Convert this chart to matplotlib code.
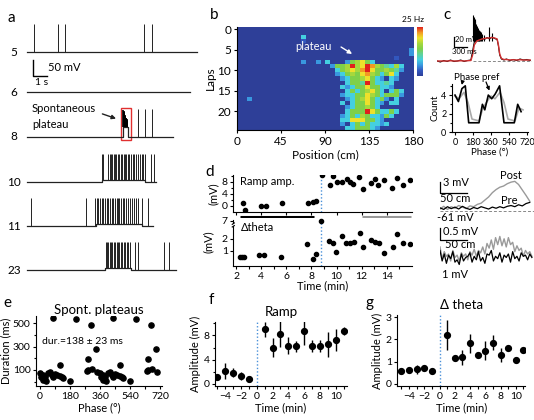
import numpy as np
import matplotlib
matplotlib.use('Agg')
import matplotlib.pyplot as plt
from matplotlib.colors import LinearSegmentedColormap
from matplotlib.patches import Rectangle

plt.rcParams['font.family'] = ['Lato', 'DejaVu Sans']
plt.rcParams['font.size'] = 7.5
plt.rcParams['axes.linewidth'] = 0.8

# ---------------- data ----------------
# a: example laps (time in s)
lap_names = ['5', '6', '8', '10', '11', '23']
lap_end = [12.14, 11.64, 10.4, 9.21, 9.0, 10.64]
lap_spikes = [
    [0.48, 2.21, 2.74, 8.36, 8.95],
    [],
    [7.95, 8.45, 8.93],
    [5.33, 5.45, 5.81, 5.9, 6.0, 6.08, 6.2, 6.3, 6.38, 6.5, 6.58, 6.7, 6.8, 6.9,
     7.0, 7.1, 7.22, 7.3, 7.42, 7.55, 7.65, 7.78, 7.9, 8.05, 8.2, 8.3, 8.43, 8.83, 9.05],
    [0.26, 4.21, 4.86, 5.0, 5.1, 5.2, 5.35, 5.45, 5.55, 5.7, 5.8, 5.9, 6.05, 6.15,
     6.3, 6.4, 6.5, 6.6, 6.72, 6.85, 6.95, 7.05, 7.2, 7.35, 7.5, 7.62, 7.78, 7.95, 8.2, 8.62],
    [5.62, 5.72, 5.8, 5.9, 6.0, 6.1, 6.2, 6.3, 6.42, 6.5, 6.6, 6.7, 6.82, 6.92,
     7.02, 7.12, 7.22, 7.36, 7.71, 7.93, 9.79, 10.14],
]
lap_plateau = [None, None, (6.86, 7.21, 30), (5.33, 8.45, 6), (4.95, 8.25, 6), (5.6, 7.4, 7)]
spont_t = [6.88, 6.9, 6.93, 6.95, 6.98, 7.0, 7.03, 7.06, 7.09, 7.12, 7.15, 7.18]
spont_h = [84, 80, 78, 72, 70, 66, 62, 60, 58, 55, 52, 50]
spike_amp = 88

# b: firing rate map (digit = rate level 0..9, 5 cm bins)
rate_rows = [
    "000000000000000000 000000000000000000",
    "000000000000000000 000000000000000000",
    "000000000000030000 000000000000000000",
    "000000000000010000 000000000000000000",
    "000000000000000000 000000000000000000",
    "000000000000000000 000000000000000002",
    "000000000000000000 000000000000000002",
    "000000000000000000 000000000000001000",
    "000000000000020020 300025675300000000",
    "000000000000000000 025569679865436300",
    "000000000000000000 003567689755654200",
    "000000000000000000 002356578653573000",
    "000000000000000000 000235567532032000",
    "000000000000000000 000035549533430000",
    "000000000000000000 000323557553320000",
    "000000000000000000 000035356753035300",
    "000000000000000000 000233557653555200",
    "002000000000000000 000023567535203000",
    "000000000000000000 000303557532033000",
    "000000000000000000 000023556530000000",
    "000000000000000000 000035559753353000",
    "000000000000000000 000235365332530000",
    "000000000000000000 000337775532000000",
    "000000000000000000 000203535332300000",
    "000000000000000000 000033555320000000",
]

# c: plateau trace (ms, mV rel.) and phase preference
c_t = [0, 80, 160, 240, 320, 400, 480, 560, 640, 720, 800, 840, 880, 940, 1000, 1060, 1120,
       1180, 1240, 1300, 1360, 1420, 1450, 1480, 1520, 1580, 1640, 1720, 1800, 1880, 1960,
       2040, 2120, 2200]
c_black = [0, -2, 1, -1, 2, -1, 0, 2, -1, 1, 2, 20, 38, 42, 40, 46, 43, 47, 44, 48, 45, 43,
           30, 12, 4, 2, 4, 1, 3, 1, 4, 2, 3, 1]
c_red = [0, 0, 0, 0, 0.5, 0, 0, 0.5, 0, 0.5, 1, 12, 32, 40, 42, 44, 45, 46, 46, 47, 46, 44,
         32, 14, 5, 3, 3, 2, 2.5, 2, 2.5, 2, 2, 2]
c_spk_t = [850, 870, 890, 905, 925, 945, 965, 990, 1010, 1040, 1070, 1100, 1230, 1290]
c_spk_v = [92, 88, 85, 80, 75, 70, 66, 62, 60, 58, 55, 52, 68, 56]
ph_black = [0, 34, 69, 103, 137, 240, 274, 298, 333, 367, 401, 446, 490, 593, 627, 661]
cnt_black = [4, 3.3, 4.7, 5, 1, 1, 3, 2.4, 4, 3.6, 4.1, 5, 1, 1, 3, 2.2]
ph_gray = [0, 40, 90, 130, 170, 240, 280, 320, 360, 400, 450, 490, 530, 600, 640, 680]
cnt_gray = [3.9, 3.6, 4.3, 3.2, 1.4, 1.2, 2.6, 3.3, 3.9, 3.6, 4.3, 3.2, 1.4, 1.2, 2.6, 2.4]

# d: ramp amplitude and delta theta over time
ramp_t = [2.53, 2.72, 3.97, 4.36, 5.64, 7.76, 8.16, 8.37, 8.82, 9.48, 9.75, 10.02, 10.41,
          10.8, 11.08, 11.34, 11.82, 12.14, 12.73, 13.07, 13.33, 13.81, 14.45, 14.8, 15.27, 15.85]
ramp_v = [1, -1.3, 0, 0.1, 1, 1, 1.2, 1.7, 10.3, 7, 10, 8, 8, 9, 8.1, 7.3, 9.5, 5.5, 7.8, 9,
          7, 8.8, 6, 9.2, 7, 8.7]
theta_t = [2.32, 2.5, 2.63, 3.86, 4.23, 5.58, 7.68, 8.1, 8.35, 8.74, 9.43, 9.7, 9.94, 10.41,
           10.73, 11.08, 11.4, 11.87, 12.14, 12.72, 13.07, 13.39, 13.81, 14.48, 14.84, 15.27, 15.85]
theta_v = [0.47, 0.47, 0.47, 0.67, 0.67, 0.47, 1.58, 0.3, 0.72, 7, 1.8, 1.64, 0.94, 2.25, 1.7,
           1.7, 1.78, 2.5, 1.36, 1.92, 1.78, 1.64, 0.86, 1.3, 2.4, 1.64, 1.58]
induction_t = 8.74
pre_span = (2.3, 8.2)
post_span = (12.0, 15.9)

# d right: averaged ramps (cm, mV) and theta amplitude
pos_ramp = [0, 7, 14, 21, 28, 35, 42, 49, 56, 63, 70, 77, 84, 91, 98, 105, 112, 119, 126,
            133, 140, 147, 154, 161, 168]
ramp_post = [-60.5, -59.8, -60.6, -59.9, -60.3, -59.6, -60.0, -60.4, -59.7, -59.9, -59.3,
             -59.0, -58.2, -57.4, -56.3, -55.5, -54.9, -54.6, -54.0, -53.6, -53.4, -54.2,
             -55.6, -57.0, -58.5]
ramp_pre = [-60.2, -60.6, -59.9, -60.4, -60.0, -60.5, -59.8, -60.3, -60.6, -60.1, -60.4,
            -59.9, -60.2, -60.5, -60.0, -60.3, -59.9, -60.2, -59.8, -59.6, -59.9, -59.4,
            -59.7, -59.1, -58.8]
pos_theta = list(range(0, 176, 4))
theta_pre = [0.75, 0.3, 0.6, 0.2, 0.55, 0.4, 0.7, 0.25, 0.35, 0.15, 0.6, 0.3, 0.45, 0.5, 0.65,
             0.25, 0.5, 0.35, 0.7, 0.3, 0.45, 0.2, 0.6, 0.55, 0.75, 0.3, 0.5, 0.4, 0.65, 0.25,
             0.55, 0.45, 0.6, 0.25, 0.7, 0.4, 0.5, 0.3, 0.65, 0.5, 0.55, 0.35, 0.6, 0.45]
theta_post = [0.9, 0.4, 0.7, 0.5, 0.6, 0.3, 0.75, 0.45, 0.55, 0.3, 0.65, 0.5, 0.6, 0.35, 0.7,
              0.55, 0.8, 0.5, 0.75, 0.65, 0.9, 0.6, 1.05, 0.85, 1.2, 0.8, 1.3, 1.0, 1.35, 0.95,
              1.25, 0.9, 1.3, 1.0, 1.1, 0.7, 0.95, 0.75, 0.85, 0.5, 0.75, 0.6, 0.7, 0.5]

# e: spontaneous plateau duration vs theta phase (one cycle, plotted twice)
e_phase = [2, 6, 16, 20, 30, 36, 50, 60, 70, 76, 90, 104, 120, 130, 140, 120, 80, 180, 216,
           290, 280, 290, 310, 340, 304, 336]
e_dur = [77, 43, 57, 14, 37, 8, 71, 86, 57, 37, 66, 57, 49, 43, 34, 143, 547, 10, 536, 194,
         94, 103, 111, 86, 485, 277]

# f, g: mean +- sem vs time from induction
fg_t = [-5, -4, -3, -2, -1, 1, 2, 3, 4, 5, 6, 7, 8, 9, 10, 11]
f_v = [1.2, 2.2, 1.85, 1.3, 0.77, 9.0, 6.0, 8.2, 6.3, 6.2, 8.7, 6.3, 6.3, 6.5, 7.3, 8.7]
f_err = [0.3, 1.3, 0.7, 0.7, 0.5, 1.2, 1.6, 2.1, 1.4, 0.9, 2.3, 1.0, 1.0, 2.0, 1.8, 0.7]
g_v = [0.58, 0.63, 0.66, 0.7, 0.6, 2.2, 1.16, 1.2, 1.83, 1.3, 1.5, 1.86, 1.3, 1.6, 1.1, 1.53]
g_err = [0.08, 0.08, 0.2, 0.08, 0.06, 0.67, 0.05, 0.34, 0.43, 0.1, 0.43, 0.34, 0.3, 0.06, 0.05, 0.06]

# ---------------- figure ----------------
W, H = 534, 420
fig = plt.figure(figsize=(W / 100, H / 100), dpi=100)
BLUE = '#4a90d9'


def px_axes(x0, y0, x1, y1):
    return fig.add_axes([x0 / W, 1 - y1 / H, (x1 - x0) / W, (y1 - y0) / H])


def ftext(x, y, s, size=7.5, **kw):
    kw.setdefault('va', 'center')
    fig.text(x / W, 1 - y / H, s, fontsize=size, **kw)


def style(ax, size=7.5):
    for sp in ['top', 'right']:
        ax.spines[sp].set_visible(False)
    ax.tick_params(direction='out', length=2.5, width=0.8, labelsize=size, pad=1.5)
    ax.tick_params(which='minor', direction='out', length=1.8, width=0.8)


for lab, x, y in [('a', 7, 18), ('b', 210, 15), ('c', 443, 15), ('d', 205, 172),
                  ('e', 3, 303), ('f', 209, 300), ('g', 365, 303)]:
    ftext(x, y, lab, size=11)

# ---- a ----
ax = px_axes(25, 15, 200, 285)
ax.axis('off')
ax.set_xlim(-0.14, 12.36)
ax.set_ylim(0, 843.75)
lap_base_px = [52, 92, 137, 182, 226, 270]
for name, end, spk, plat, bpx in zip(lap_names, lap_end, lap_spikes, lap_plateau, lap_base_px):
    base = (285 - bpx) * 3.125
    if plat is None:
        ax.plot([0, end], [base, base], color='#222222', lw=0.9)
        lvl = [base] * len(spk)
    else:
        s0, s1, h = plat
        ax.plot([0, s0, s0, s1, s1, end], [base, base, base + h, base + h, base, base],
                color='#222222', lw=0.9)
        lvl = [base + h if s0 <= t <= s1 else base for t in spk]
    ax.vlines(spk, lvl, base + spike_amp, color='#222222', lw=0.7)
    ftext(14, bpx, name, size=8.5, ha='center')
    if name == '8':
        ax.vlines(spont_t, base + 30, [base + v for v in spont_h], color='black', lw=1.2)
        ax.add_patch(Rectangle((6.71, base - 9), 0.72, 100, fill=False, ec='#e03030', lw=1))
# scale bar
ax.plot([0.43, 0.43, 1.43], [703, 653, 653], color='black', lw=1)
ax.text(1.5, 680, '50 mV', fontsize=8, va='center')
ax.text(0.6, 633, '1 s', fontsize=7.5, va='center')
ftext(32, 109, 'Spontaneous', size=8)
ftext(32, 124, 'plateau', size=8)
ax.annotate('', xy=(6.55, (285 - 119.5) * 3.125), xytext=(5.2, (285 - 113) * 3.125),
            arrowprops=dict(arrowstyle='-|>', color='#222222', lw=1, mutation_scale=6))

# ---- b ----
rate = np.array([[int(ch) for ch in r.replace(' ', '')] for r in rate_rows])
cmap = LinearSegmentedColormap.from_list('rate', ['#2e3f98', '#3358bf', '#3a9ae0', '#44cfe0',
                                                  '#5fd39a', '#7fd04a', '#a6d83c', '#eee22c',
                                                  '#f39a24', '#e0201c'])
ax = px_axes(236.7, 27, 413.3, 130)
im = ax.imshow(rate, cmap=cmap, vmin=0, vmax=9, aspect='auto', interpolation='nearest',
               extent=(0, 180, 24.5, -0.5))
style(ax, 8.5)
ax.set_xticks([0, 45, 90, 135, 180])
ax.set_yticks([0, 5, 10, 15, 20])
ax.set_ylabel('Laps', fontsize=8.5, labelpad=1)
ax.set_xlabel('Position (cm)', fontsize=8.5, labelpad=2)
ax.text(60, 4.3, 'plateau', color='white', fontsize=8, va='center')
ax.annotate('', xy=(120, 6.4), xytext=(104, 4.0),
            arrowprops=dict(arrowstyle='-|>', color='white', lw=1, mutation_scale=6))
cax = px_axes(417, 27, 423, 76)
fig.colorbar(im, cax=cax)
cax.set_yticks([])
cax.tick_params(length=0)
cax.spines[:].set_visible(False)
ftext(402, 20, '25 Hz', size=6)

# ---- c top ----
ax = px_axes(437, 12, 532, 65)
ax.axis('off')
ax.set_xlim(0, 2242)
ax.set_ylim(-8, 98)
ax.plot([850, 2240], [0, 0], ls=(0, (3, 2)), color='#888888', lw=0.7)
ax.plot(c_t, c_black, color='black', lw=0.8)
ax.vlines(c_spk_t, 40, c_spk_v, color='black', lw=0.8)
ax.plot(c_t, c_red, color='#d23030', lw=1)
ax.plot([401, 401, 701], [48.6, 28.6, 28.6], color='black', lw=0.9)
ftext(455, 39, '20 mV', size=5.5)
ftext(452, 52, '300 ms', size=5.5)

# ---- c bottom ----
ax = px_axes(452, 84, 528, 132)
style(ax, 6.5)
ax.set_xlim(-30, 730)
ax.set_ylim(0, 5.2)
ax.plot(ph_gray, cnt_gray, color='#aaaaaa', lw=1.2)
ax.plot(ph_black, cnt_black, color='black', lw=1.2)
ax.set_xticks([0, 180, 360, 540, 720])
ax.set_yticks([0, 2, 4])
ax.set_yticks([1, 3, 5], minor=True)
ax.set_ylabel('Count', fontsize=7, labelpad=1)
ax.set_xlabel('Phase (°)', fontsize=7, labelpad=1)
ftext(477, 78, 'Phase pref', size=7, ha='center')
ax.annotate('', xy=(62, 4.8), xytext=(80, 5.7), annotation_clip=False,
            arrowprops=dict(arrowstyle='-|>', color='black', lw=0.9, mutation_scale=5))
ax.annotate('', xy=(355, 4.2), xytext=(300, 5.7), annotation_clip=False,
            arrowprops=dict(arrowstyle='-|>', color='black', lw=0.9, mutation_scale=5))

# ---- d left ----
ax = px_axes(233.3, 175, 412, 211.7)
style(ax, 7.5)
ax.set_xlim(1.785, 16.01)
ax.set_ylim(-1.9, 10.3)
ax.scatter(ramp_t, ramp_v, s=9, color='black', zorder=3)
ax.axvline(induction_t, color=BLUE, ls=(0, (1, 1.5)), lw=1)
ax.set_xticks(range(2, 16, 2))
ax.set_xticklabels([])
ax.set_yticks([0, 4, 8])
ax.set_yticks([2, 6, 10], minor=True)
ax.set_ylabel('(mV)', fontsize=8, labelpad=2)
ax.text(2.3, 8.2, 'Ramp amp.', fontsize=8, va='center')
ax.plot(pre_span, [-3.6, -3.6], color='black', lw=2.2, clip_on=False, solid_capstyle='butt')
ax.plot(post_span, [-3.6, -3.6], color='#999999', lw=2.2, clip_on=False, solid_capstyle='butt')

ax = px_axes(233.3, 218, 412, 266)
style(ax, 7.5)
ax.set_xlim(1.785, 16.01)
ax.set_ylim(-0.25, 3.75)
theta_disp = [v if v < 3 else 3.53 for v in theta_v]
ax.scatter(theta_t, theta_disp, s=9, color='black', zorder=3)
ax.axvline(induction_t, color=BLUE, ls=(0, (1, 1.5)), lw=1)
ax.set_xticks(range(2, 16, 2))
ax.set_xticks(range(3, 16, 2), minor=True)
ax.set_yticks([1, 2, 3.53])
ax.set_yticklabels(['1', '2', '7'])
ax.spines['left'].set_bounds(-0.25, 3.05)
ax.plot([1.785, 1.785], [3.3, 3.6], color='black', lw=0.8, clip_on=False)
ax.plot([1.70, 1.87], [3.0, 3.12], color='black', lw=0.8, clip_on=False)
ax.plot([1.70, 1.87], [3.22, 3.34], color='black', lw=0.8, clip_on=False)
ax.set_ylabel('(mV)', fontsize=8, labelpad=6)
ax.set_xlabel('Time (min)', fontsize=8, labelpad=0)
ax.text(2.4, 2.95, 'Δtheta', fontsize=8, va='center')

# ---- d right ----
ax = px_axes(440, 172, 533.5, 215)
ax.axis('off')
ax.set_xlim(0, 175)
ax.set_ylim(-62.03, -51.0)
ax.plot([0, 175], [-61, -61], ls=(0, (3, 2)), color='#888888', lw=0.7)
ax.plot(pos_ramp, ramp_post, color='#9a9a9a', lw=1)
ax.plot(pos_ramp, ramp_pre, color='black', lw=0.9)
ax.plot([0, 0, 50], [-53.46, -56.46, -56.46], color='black', lw=0.9, clip_on=False)
ftext(443, 183, '3 mV', size=8)
ftext(440, 198, '50 cm', size=8)
ftext(437, 217, '-61 mV', size=8)
ftext(500, 175, 'Post', size=8)
ftext(501, 200, 'Pre', size=8)

ax = px_axes(440, 225, 533.5, 268)
ax.axis('off')
ax.set_xlim(0, 175)
ax.set_ylim(0, 1.84)
ax.plot(pos_theta, theta_post, color='#9a9a9a', lw=1)
ax.plot(pos_theta, theta_pre, color='black', lw=0.9)
ax.plot([0, 0, 50], [1.697, 1.197, 1.197], color='black', lw=0.9, clip_on=False)
ftext(443, 231, '0.5 mV', size=8)
ftext(445, 244, '50 cm', size=8)
ftext(442, 275, '1 mV', size=8)

# ---- e ----
ax = px_axes(36, 316, 162, 386)
style(ax, 7.5)
ax.set_xlim(-24, 732)
ax.set_ylim(-37, 562)
ax.scatter(e_phase, e_dur, s=14, color='black', zorder=3)
ax.scatter([p + 360 for p in e_phase], e_dur, s=14, color='black', zorder=3)
ax.set_xticks([0, 180, 360, 540, 720])
ax.set_xticks([90, 270, 450, 630], minor=True)
ax.set_yticks([100, 300, 500])
ax.set_yticks([0, 200, 400], minor=True)
ax.set_ylabel('Duration (ms)', fontsize=8, labelpad=1)
ax.set_xlabel('Phase (°)', fontsize=8, labelpad=1)
ax.set_title('Spont. plateaus', fontsize=9.5, pad=1)
ax.text(12, 340, 'dur.=138 ± 23 ms', fontsize=7.5, va='center')

# ---- f ----
ax = px_axes(215, 322, 346.7, 386)
style(ax, 7.5)
ax.set_xlim(-5.3, 11.4)
ax.set_ylim(-0.33, 10.2)
ax.errorbar(fg_t, f_v, yerr=f_err, fmt='o', color='black', ms=4.2, elinewidth=1, capsize=0)
ax.axvline(0, color=BLUE, ls=(0, (1, 1.5)), lw=1)
ax.set_xticks(range(-4, 11, 2))
ax.set_xticks(range(-5, 12, 2), minor=True)
ax.set_xticklabels(['\u22124', '\u22122', '0', '2', '4', '6', '8', '10'])
ax.set_yticks([0, 4, 8])
ax.set_yticks([2, 6, 10], minor=True)
ax.set_ylabel('Amplitude (mV)', fontsize=8, labelpad=2)
ax.set_xlabel('Time (min)', fontsize=8, labelpad=1)
ax.set_title('Ramp', fontsize=9.5, pad=4)

# ---- g ----
ax = px_axes(397.3, 315, 525, 386)
style(ax, 7.5)
ax.set_xlim(-5.55, 11.2)
ax.set_ylim(-0.09, 3.1)
ax.errorbar(fg_t, g_v, yerr=g_err, fmt='o', color='black', ms=4.2, elinewidth=1, capsize=0)
ax.axvline(0, color=BLUE, ls=(0, (1, 1.5)), lw=1)
ax.set_xticks(range(-4, 11, 2))
ax.set_xticks(range(-5, 12, 2), minor=True)
ax.set_xticklabels(['\u22124', '\u22122', '0', '2', '4', '6', '8', '10'])
ax.set_yticks([0, 1, 2, 3])
ax.set_ylabel('Amplitude (mV)', fontsize=8, labelpad=2)
ax.set_xlabel('Time (min)', fontsize=8, labelpad=1)
ax.set_title('Δ theta', fontsize=9.5, pad=4)

fig.savefig('out.png', dpi=100)
